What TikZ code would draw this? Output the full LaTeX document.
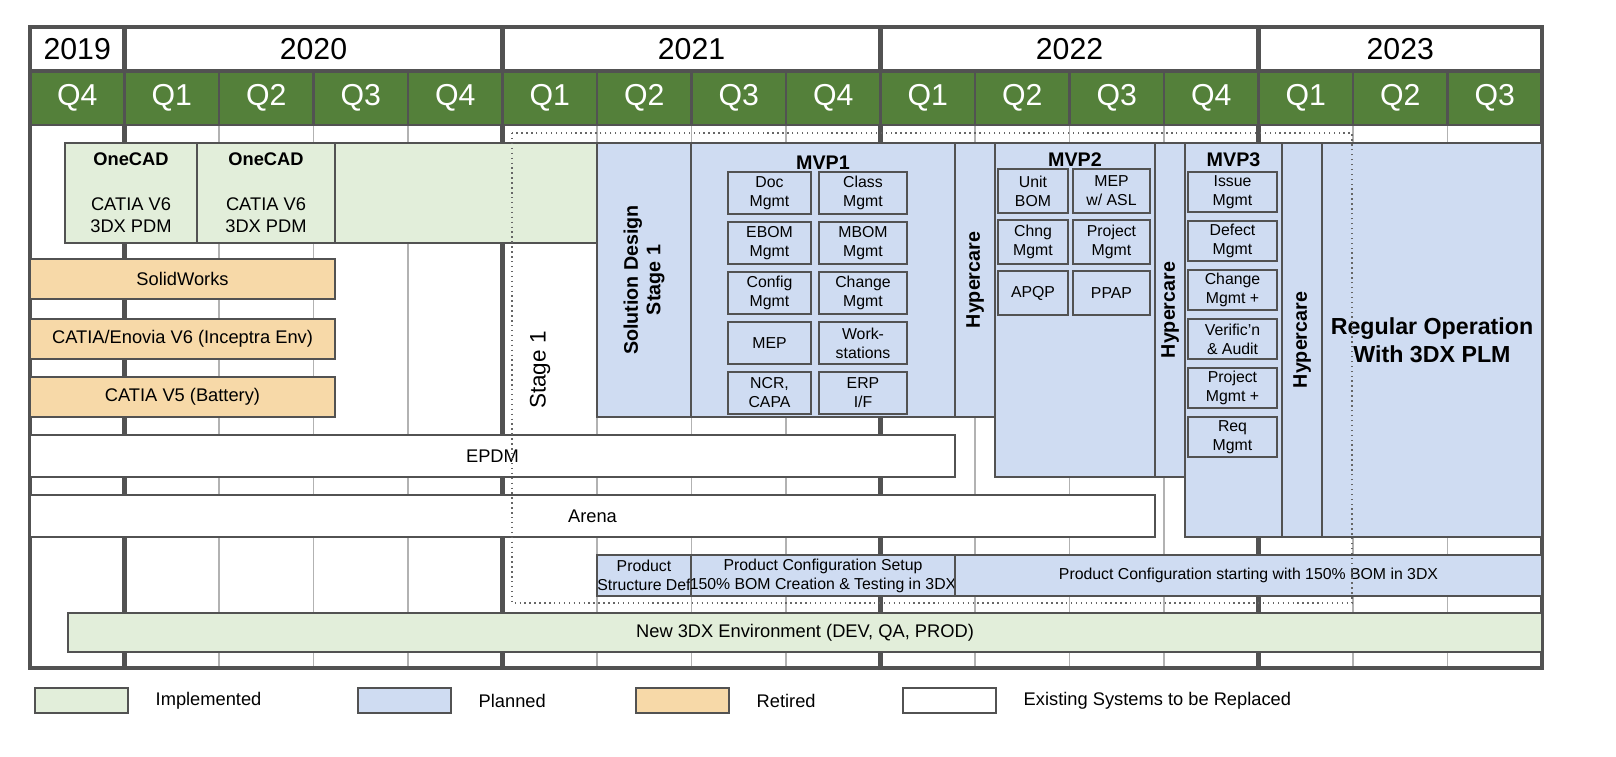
\documentclass[tikz,border=0pt]{standalone}
\usepackage{fontspec}
\setmainfont{Liberation Sans}
\usetikzlibrary{fit}
\setlength{\parindent}{0pt}
\definecolor{hdr}{RGB}{84,128,58}
\definecolor{imp}{RGB}{226,238,218}
\definecolor{pln}{RGB}{207,220,242}
\definecolor{ret}{RGB}{247,217,168}
\colorlet{edg}{black!68}
\tikzset{
    bar/.style={draw=edg,line width=0.8pt,fill=#1,inner sep=0pt},
    sub/.style={draw=edg,line width=0.8pt,inner sep=0pt},
    lbl/.style={align=center,inner sep=0pt,font=\fontsize{5.2}{6.2}\selectfont},
    slbl/.style={align=center,inner sep=0pt,font=\fontsize{4.5}{5.4}\selectfont},
    big/.style={inner sep=0pt,font=\fontsize{8.6}{9}\selectfont},
    vtxt/.style={rotate=90,align=center,inner sep=0pt,font=\fontsize{5.6}{6.4}\selectfont\bfseries},
    ttl/.style={inner sep=0pt,font=\fontsize{5.6}{6.4}\selectfont\bfseries},
    legtxt/.style={anchor=west,inner sep=0pt,font=\fontsize{5.2}{6.2}\selectfont}
}
\begin{document}
\begin{tikzpicture}[x=0.01cm,y=-0.01cm]
    \useasboundingbox (0,0) rectangle (1616,756);
    % grid lines of the body
    \foreach \i in {1,...,15} {
        \draw [black!30,line width=0.5pt] ({30+94.5*\i},125) -- ({30+94.5*\i},668);
    }
    \foreach \i in {1,5,9,13} {
        \draw [edg,line width=1.4pt] ({30+94.5*\i},125) -- ({30+94.5*\i},668);
    }
    % header
    \foreach \q [count=\i from 0] in {Q4,Q1,Q2,Q3,Q4,Q1,Q2,Q3,Q4,Q1,Q2,Q3,Q4,Q1,Q2,Q3} {
        \node [bar=hdr,fit={({30+94.5*\i},71) ({124.5+94.5*\i},125)}] (q\i) {};
        \node [big,text=white] at (q\i) {\q};
    }
    \foreach \y/\a/\b in {2019/0/1,2020/1/5,2021/5/9,2022/9/13,2023/13/16} {
        \node [bar=white,line width=1.4pt,fit={({30+94.5*\a},27) ({30+94.5*\b},71)}] (y\y) {};
        \node [big] at (y\y) {\y};
    }
    \draw [edg,line width=1.4pt] (30,27) rectangle (1542,668);
    % implemented and retired systems
    \node [bar=imp,fit={(335,143) (597,243)}] (oneext) {};
    \node [bar=imp,fit={(65,143) (197,243)}] (onecad1) {};
    \node [lbl,below=3pt] at (onecad1.north) {\textbf{OneCAD}\\[6.5pt]CATIA V6\\3DX PDM};
    \node [bar=imp,fit={(197,143) (335,243)}] (onecad2) {};
    \node [lbl,below=3pt] at (onecad2.north) {\textbf{OneCAD}\\[6.5pt]CATIA V6\\3DX PDM};
    \node [bar=ret,fit={(30,259) (335,299)}] (sw) {};
    \node [lbl] at (sw) {SolidWorks};
    \node [bar=ret,fit={(30,319) (335,359)}] (enovia) {};
    \node [lbl] at (enovia) {CATIA/Enovia V6 (Inceptra Env)};
    \node [bar=ret,fit={(30,377) (335,417)}] (v5) {};
    \node [lbl] at (v5) {CATIA V5 (Battery)};
    \node [bar=white,fit={(30,435) (955,477)}] (epdm) {};
    \node [lbl] at (epdm) {EPDM};
    \node [bar=white,fit={(30,495) (1155,537)}] (arena) {};
    \node [lbl] at (arena) {Arena};
    % planned blocks
    \node [bar=pln,fit={(597,143) (691,417)}] (soldes) {};
    \node [vtxt] at (soldes) {Solution Design\\Stage 1};
    \node [bar=pln,fit={(691,143) (955,417)}] (mvp1) {};
    \node [ttl,below=4pt] at (mvp1.north) {MVP1};
    \node [bar=pln,fit={(955,143) (995,417)}] (hyp1) {};
    \node [vtxt] at (hyp1) {Hypercare};
    \node [bar=pln,fit={(995,143) (1155,477)}] (mvp2) {};
    \node [ttl,below=3pt] at (mvp2.north) {MVP2};
    \node [bar=pln,fit={(1155,143) (1185,477)}] (hyp2) {};
    \node [vtxt] at (hyp2) {Hypercare};
    \node [bar=pln,fit={(1185,143) (1282,537)}] (mvp3) {};
    \node [ttl,below=3pt] at (mvp3.north) {MVP3};
    \node [bar=pln,fit={(1282,143) (1322,537)}] (hyp3) {};
    \node [vtxt] at (hyp3) {Hypercare};
    \node [bar=pln,fit={(1322,143) (1542,537)}] (regop) {};
    \node [ttl,font=\fontsize{6.6}{8}\selectfont\bfseries,align=center] at (1432,340) {Regular Operation\\With 3DX PLM};
    % modules of each release
    \foreach \ta/\tb [count=\r from 0] in {Doc\\Mgmt/Class\\Mgmt,EBOM\\Mgmt/MBOM\\Mgmt,Config\\Mgmt/Change\\Mgmt,MEP/Work-\\stations,{NCR,\\CAPA}/{ERP\\I/F}} {
        \node [sub,fit={(728,{172+50*\r}) (811,{214+50*\r})}] (ma\r) {};
        \node [slbl] at (ma\r) {\ta};
        \node [sub,fit={(819,{172+50*\r}) (907,{214+50*\r})}] (mb\r) {};
        \node [slbl] at (mb\r) {\tb};
    }
    \foreach \ta/\tb [count=\r from 0] in {Unit\\BOM/{MEP\\w/ ASL},Chng\\Mgmt/Project\\Mgmt,APQP/PPAP} {
        \node [sub,fit={(998,{169+51*\r}) (1068,{213+51*\r})}] (na\r) {};
        \node [slbl] at (na\r) {\ta};
        \node [sub,fit={(1073,{169+51*\r}) (1150,{213+51*\r})}] (nb\r) {};
        \node [slbl] at (nb\r) {\tb};
    }
    \foreach \t [count=\r from 0] in {Issue\\Mgmt,Defect\\Mgmt,Change\\Mgmt +,Verific'n\\\& Audit,Project\\Mgmt +,Req\\Mgmt} {
        \node [sub,fit={(1188,{172+49*\r}) (1277,{212+49*\r})}] (k\r) {};
        \node [slbl] at (k\r) {\t};
    }
    % configuration track
    \node [bar=pln,fit={(597,555) (691,596)}] (psd) {};
    \node [slbl] at (psd) {Product\\Structure Def};
    \node [bar=pln,fit={(691,555) (955,596)}] (pcs) {};
    \node [slbl] at (pcs) {Product Configuration Setup\\150\% BOM Creation \& Testing in 3DX};
    \node [bar=pln,fit={(955,555) (1542,596)}] (pcb) {};
    \node [slbl] at (pcb) {Product Configuration starting with 150\% BOM in 3DX};
    \node [bar=imp,fit={(68,613) (1542,652)}] (env) {};
    \node [lbl] at (env) {New 3DX Environment (DEV, QA, PROD)};
    % stage 1 frame
    \draw [black!60,densely dotted,line width=0.4pt] (512,133) rectangle (1352,603);
    \node [rotate=90,inner sep=0pt,font=\fontsize{6.4}{7}\selectfont] (stage) at (540,370) {Stage 1};
    % legend
    \foreach \c/\x/\t in {imp/35/Implemented,pln/358/Planned,ret/636/Retired,white/903/Existing Systems to be Replaced} {
        \node [bar=\c,line width=0.6pt,fit={(\x,688) (\x+93,713)}] (leg\c) {};
        \node [legtxt] at (\x+120,701) {\t};
    }
\end{tikzpicture}
\end{document}
